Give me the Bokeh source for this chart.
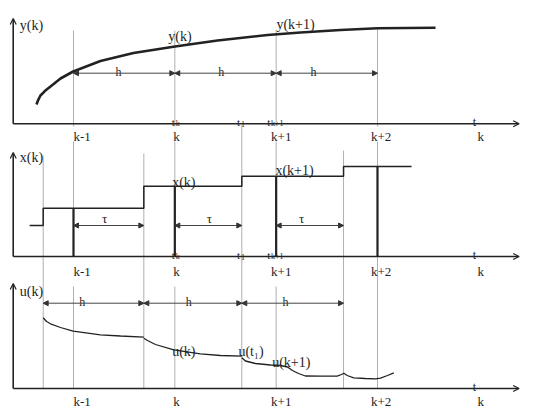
from bokeh.plotting import figure
from bokeh.models import Range1d, Arrow, NormalHead, OpenHead, ColumnDataSource
from bokeh.core.properties import value
from bokeh.embed import file_html
from bokeh.resources import INLINE

# ---------------- data ----------------
# time axis (one unit = one sampling period h): sampling instants k-1, k, k+1, k+2
samples = [1.0, 2.0, 3.0, 4.0]
sample_labels = ["k-1", "k", "k+1", "k+2"]
# instants where the delayed control acts (sample + tau); the third one is t1
delayed = [0.701, 1.694, 2.661, 3.665]
t_axis_start = 0.405
t_axis_end = 5.398

# top panel: continuous output y(t)
y_t = [0.635, 0.650, 0.674, 0.720, 0.773, 0.872, 0.997, 1.266, 1.592, 2.002,
       2.421, 2.915, 3.240, 3.635, 4.000, 4.573]
y_val = [19.3, 23.5, 28.3, 33.0, 37.3, 45.3, 52.3, 62.8, 70.8, 77.3,
         83.3, 88.8, 91.3, 93.8, 95.5, 96.1]

# middle panel: state x(t) (piecewise constant, jumps at the delayed instants)
x_step_t = [0.567, 0.701, 1.694, 2.661, 3.665, 4.336]
x_step_v = [31.0, 48.3, 70.3, 80.3, 90.0, 90.0]
x_at_samples = [48.3, 70.3, 80.3, 90.0]

# bottom panel: control u(t), one piece per interval h
u1_t = [0.701, 0.734, 0.773, 0.872, 0.997, 1.266, 1.464, 1.694]
u1_v = [70.7, 67.0, 64.7, 61.0, 57.3, 53.7, 52.5, 51.3]
u2_t = [1.694, 1.730, 1.809, 1.990, 2.253, 2.451, 2.661]
u2_v = [50.3, 48.0, 44.0, 38.7, 34.7, 33.0, 32.3]
u3_t = [2.661, 2.697, 2.796, 2.944, 3.043, 3.112, 3.161, 3.220, 3.289, 3.438,
        3.602, 3.645, 3.668, 3.701, 3.766, 3.881, 3.980, 4.030, 4.099, 4.161]
u3_v = [30.7, 27.5, 25.0, 23.5, 23.0, 21.5, 18.0, 15.0, 12.5, 12.3,
        12.3, 14.0, 15.3, 13.0, 10.7, 10.0, 9.7, 10.3, 13.0, 15.7]

# ---------------- layout ----------------
base_top, base_mid, base_bot = 277.7, 145.0, 13.0
axis_height = [105.3, 104.0, 105.0]
INK = "#222222"
GREY = "#b0b0b0"
TXT = "#1e1e1e"
SERIF = value("Liberation Serif")

p = figure(width=535, height=409, output_backend="svg", toolbar_location=None,
           x_range=Range1d(0.2796, 5.5594), y_range=Range1d(-8, 401),
           x_axis_location=None, y_axis_location=None, min_border=0,
           background_fill_color="white", border_fill_color="white")
p.grid.visible = False
p.outline_line_color = None

# ---- grey guide lines ----
p.segment(x0=samples, x1=samples, y0=[371, 371, 372, 373], y1=[275] * 4,
          line_color=GREY, line_width=1)
p.segment(x0=samples, x1=samples, y0=[260] * 4, y1=[base_mid] * 3 + [base_bot],
          line_color=GREY, line_width=1)
p.segment(x0=samples[:3], x1=samples[:3], y0=[115] * 3, y1=[base_bot] * 3,
          line_color=GREY, line_width=1)
p.segment(x0=delayed, x1=delayed, y0=[246, 248, 276, 251], y1=[base_bot] * 4,
          line_color=GREY, line_width=1)

# ---- axes with arrows ----
bases = [base_top, base_mid, base_bot]
for b, hgt in zip(bases, axis_height):
    p.add_layout(Arrow(end=OpenHead(size=6, line_width=1.2, line_color=INK),
                       x_start=t_axis_start, y_start=b, x_end=t_axis_start, y_end=b + hgt,
                       line_width=1.6, line_color=INK))
    p.add_layout(Arrow(end=OpenHead(size=6, line_width=1.2, line_color=INK),
                       x_start=t_axis_start, y_start=b, x_end=t_axis_end, y_end=b,
                       line_width=1.6, line_color=INK))

# ---- top: y(t) ----
p.line(y_t, [base_top + v for v in y_val], line_color=INK, line_width=2.6)

# ---- middle: x(t) ----
p.step(x=x_step_t, y=[base_mid + v for v in x_step_v], mode="after",
       line_color=INK, line_width=1.5)
p.segment(x0=samples, x1=samples, y0=[base_mid] * 4,
          y1=[base_mid + v for v in x_at_samples], line_color=INK, line_width=2.2)

# ---- bottom: u(t) ----
p.multi_line(xs=[u1_t, u2_t, u3_t],
             ys=[[base_bot + v for v in u1_v], [base_bot + v for v in u2_v],
                 [base_bot + v for v in u3_v]],
             line_color=INK, line_width=1.3)

# ---- dimension arrows (h and tau) ----
def dim_arrows(x0, x1, y):
    src = ColumnDataSource(dict(x0=x0, x1=x1, y=[y] * len(x0)))
    p.add_layout(Arrow(source=src, x_start="x0", x_end="x1", y_start="y", y_end="y",
                       line_color="#444444", line_width=1,
                       start=NormalHead(size=5, fill_color="#333333", line_color="#333333"),
                       end=NormalHead(size=5, fill_color="#333333", line_color="#333333")))

dim_arrows(samples[:3], samples[1:], 328.3)          # h between samples
dim_arrows(samples[:3], delayed[1:], 176.0)          # tau delays
dim_arrows(delayed[:3], delayed[1:], 98.3)           # h between control changes

# ---- texts ----
def txt(x, y, s, size, align="left", baseline="middle"):
    p.text(x=x, y=y, text=s, text_font=SERIF, text_font_size=size,
           text_color=TXT, text_align=align, text_baseline=baseline)

# function labels
txt([0.470, 1.935, 3.003], [376, 365, 377], ["y(k)", "y(k)", "y(k+1)"], "14px")
txt([0.470, 1.974, 2.993], [244.3, 219.3, 231.3], ["x(k)", "x(k)", "x(k+1)"], "14px")
txt([0.470, 1.974, 2.628, 2.961], [110.2, 50.2, 50.2, 39.0],
    ["u(k)", "u(k)", "u(t\u2081)", "u(k+1)"], "14px")

# h / tau labels
txt([1.444, 2.458, 3.368], [330.0] * 3, ["h"] * 3, "12px", align="center")
txt([1.306, 2.342, 3.250], [183.0] * 3, ["\u03c4"] * 3, "13px", align="center")
txt([1.086, 2.138, 3.092], [100.0] * 3, ["h"] * 3, "12px", align="center")

# sample labels below each time axis
lab_shift = [0.0, -0.015, -0.05, -0.064]
lab_x = [s + d for s, d in zip(samples, lab_shift)]
for yb in [265.0, 130.5, 0.0]:
    txt(lab_x + [4.987], [yb] * 5, sample_labels + ["k"], "13px", baseline="alphabetic")
# "t" at the end of each time axis
txt([4.957] * 3, [280.0, 147.0, 15.0], ["t"] * 3, "12px", align="center", baseline="alphabetic")

# t_k, t_1, t_{k+1} marks on top and middle axes
for yb in [280.0, 147.0]:
    txt([1.970, 2.614, 2.911], [yb] * 3, ["t", "t", "t"], "11px", baseline="alphabetic")
    txt([2.008, 2.652, 2.949], [yb - 2.0] * 3, ["k", "1", "k+1"], "8px", baseline="alphabetic")

open("out.html", "w").write(file_html(p, INLINE))
